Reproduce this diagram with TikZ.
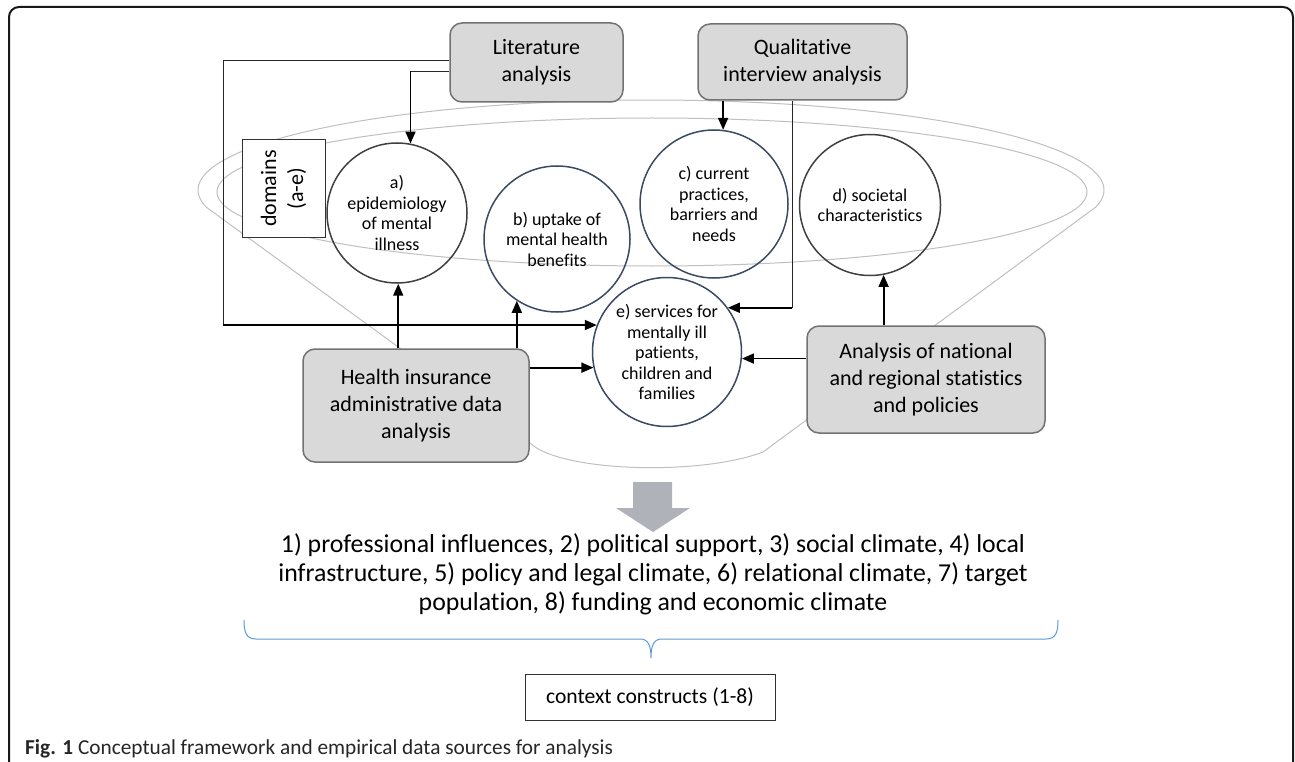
\documentclass[tikz,border=0pt]{standalone}
\usepackage{fontspec}
\setmainfont{Carlito}[Ligatures={NoCommon,NoRare,NoContextual},Contextuals={NoAlternate}]
\usetikzlibrary{arrows.meta}
\definecolor{boxfill}{HTML}{D9D9D9}
\definecolor{boxdraw}{HTML}{767171}
\definecolor{funnel}{HTML}{BFBFBF}
\definecolor{circblue}{HTML}{3B4A63}
\definecolor{circdark}{HTML}{404040}
\definecolor{bigarrow}{RGB}{175,178,184}
\definecolor{bracecol}{HTML}{5B9BD5}
\begin{document}
\begin{tikzpicture}[x=1pt,y=-1pt,
  srcbox/.style={draw=boxdraw, line width=1.5pt, fill=boxfill, rounded corners=12pt, inner sep=0pt, align=center, font=\fontsize{22}{27}\selectfont},
  dom/.style={circle, line width=1.5pt, inner sep=0pt, align=center, font=\fontsize{18}{20.5}\selectfont},
  arr/.style={line width=1.8pt, draw=black, -{Triangle[length=12pt,width=10pt]}},
  thinline/.style={line width=1pt, draw=black!85},
  funnelline/.style={draw=funnel, line width=1pt}]
\useasboundingbox (0,0) rectangle (1295,762);
% outer frame
\draw[line width=2pt, draw=black!90, rounded corners=10pt] (9,762) -- (9,7) -- (1293,7) -- (1293,762);
% funnel outlines
\draw[funnelline] plot[domain=-11:191, samples=120, smooth] ({651+453*cos(\x)},{190-90*sin(\x)}) -- (530,443) .. controls (560,472) and (700,476) .. (763,452) -- cycle;
\draw[funnelline] (652,192) ellipse [x radius=435pt, y radius=74pt];
% domains box
\node[draw=black!80, fill=white, line width=1pt, rotate=90, minimum width=97pt, minimum height=83pt, inner sep=0pt, align=center, font=\fontsize{22}{27}\selectfont] (domains) at (283.5,188.5) {domains\\(a-e)};
% source boxes
\node[srcbox, minimum width=173pt, minimum height=79pt] (lit) at (536.5,62.5) {Literature\\analysis};
\node[srcbox, minimum width=209pt, minimum height=76pt] (qual) at (802.5,62) {Qualitative\\interview analysis};
\node[srcbox, minimum width=226pt, minimum height=113pt] (hi) at (416,405.5) {Health insurance\\administrative data\\analysis};
\node[srcbox, minimum width=238pt, minimum height=107pt] (an) at (926,379.5) {Analysis of national\\and regional statistics\\and policies};
% domain circles
\node[dom, draw=circdark, minimum size=140pt] (a) at (397,213) {a)\\epidemiology\\of mental\\illness};
\node[dom, draw=circblue, minimum size=146pt] (b) at (557,239) {b) uptake of\\mental health\\benefits};
\node[dom, draw=circblue, minimum size=148pt] (c) at (714,204) {c) current\\practices,\\barriers and\\needs};
\node[dom, draw=circdark, minimum size=141pt] (d) at (870,205) {d) societal\\characteristics};
\node[dom, draw=circblue, minimum size=149pt] (e) at (667,352) {e) services for\\mentally ill\\patients,\\children and\\families};
% connectors
\coordinate (lx) at (223,0);
\coordinate (qx) at (792,0);
\coordinate (l1) at ([yshift=1.5pt]lit.west);
\coordinate (l2) at ([yshift=-9pt]lit.west);
\draw[thinline] (l1) -| (lx |- e.159);
\draw[arr] (lx |- e.159) -- (e.159);
\draw[thinline] (l2) -- (l2 -| a.79);
\draw[arr] (l2 -| a.79) -- (a.79);
\draw[arr] (c.83 |- qual.south) -- (c.83);
\draw[thinline] (qx |- qual.south) -- (qx |- e.36);
\draw[arr] (qx |- e.36) -- (e.36);
\draw[arr] (a.271 |- hi.north) -- (a.271);
\draw[arr] (b.237 |- hi.north) -- (b.237);
\draw[arr] (hi.east |- e.192) -- (e.192);
\draw[arr] (an.west |- e.355) -- (e.355);
\draw[arr] (d.281 |- an.north) -- (d.281);
% big down arrow
\fill[bigarrow] (633,482) -- (672,482) -- (672,508) -- (690,508) -- (653,532) -- (616,508) -- (633,508) -- cycle;
% constructs text
\node[align=center, inner sep=0pt, font=\fontsize{25.8}{29}\selectfont] (constructs) at (653,574) {1) professional influences, 2) political support, 3) social climate, 4) local\\infrastructure, 5) policy and legal climate, 6) relational climate, 7) target\\population, 8) funding and economic climate};
% brace
\draw[draw=bracecol, line width=1pt] (244,620) .. controls (244,632) and (246,639) .. (256,639) -- (640,639) .. controls (648,639) and (651,645) .. (651,658) .. controls (651,645) and (654,639) .. (662,639) -- (1046,639) .. controls (1056,639) and (1058,632) .. (1058,620);
% context box
\node[draw=black!80, line width=1pt, minimum width=250pt, minimum height=46pt, inner sep=0pt, font=\fontsize{21.6}{24}\selectfont] (cc) at (650,697) {context constructs (1-8)};
% caption
\node[anchor=base west, inner sep=0pt, text=black!85, font=\fontsize{21.3}{24}\selectfont] (cap) at (25,754) {\textbf{Fig. 1} Conceptual framework and empirical data sources for analysis};
\end{tikzpicture}
\end{document}
